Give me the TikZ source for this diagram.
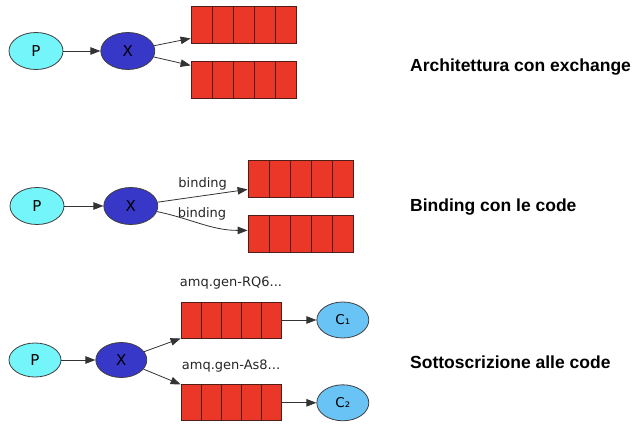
\documentclass[tikz,border=0pt]{standalone}
\usepackage{fontspec}
\setmainfont{DejaVu Sans}
\newfontfamily\titlefont{Liberation Sans}
\usetikzlibrary{shapes.geometric, arrows.meta, positioning, calc}

\definecolor{prodcyan}{RGB}{115,245,250}
\definecolor{exblue}{RGB}{55,55,200}
\definecolor{consblue}{RGB}{105,195,245}
\definecolor{qred}{RGB}{235,55,40}
\definecolor{qedge}{RGB}{80,30,25}

\begin{document}
\begin{tikzpicture}[x=1pt, y=-1pt,
      % Define compact styles
      producer/.style={ellipse, draw=black!75, thick, fill=prodcyan, minimum width=54pt, minimum height=37pt, inner sep=0pt, font=\fontsize{15}{17}\selectfont},
      exchange/.style={ellipse, draw=black!75, thick, fill=exblue, minimum width=54pt, minimum height=37pt, inner sep=0pt, font=\fontsize{15}{17}\selectfont},
      consumer/.style={ellipse, draw=black!75, thick, fill=consblue, minimum width=52pt, minimum height=36pt, inner sep=0pt, font=\fontsize{13.5}{15}\selectfont},
      queue/.style={rectangle, draw=qedge, thick, fill=qred, minimum width=105pt, minimum height=37pt, inner sep=0pt,
        path picture={\foreach \k in {1,...,4} \draw[qedge, thick] ($(path picture bounding box.south west)!\k/5!(path picture bounding box.south east)$) -- ($(path picture bounding box.north west)!\k/5!(path picture bounding box.north east)$);}},
      lbl/.style={inner sep=1pt, font=\fontsize{13}{15}\selectfont, text=black!85},
      title/.style={anchor=west, inner sep=0pt, font=\titlefont\bfseries\fontsize{17.5}{20}\selectfont},
      arrow/.style={-{Triangle[length=10pt,width=7.5pt]}, black!80, line width=0.8pt}
    ]
    \useasboundingbox (0,0) rectangle (640,425);

    % Row 1 - exchange
    \node[producer] (p1) at (36,51) {P};
    \node[exchange, right=37pt of p1] (x1) {X};
    \node[queue] (q1a) at (243.5,24.5) {};
    \node[queue, below=18pt of q1a] (q1b) {};
    \node[title] (t1) at (410,67) {Architettura con exchange};

    % Row 2 - bindings
    \node[producer] (p2) at (37,206) {P};
    \node[exchange, right=39pt of p2] (x2) {X};
    \node[queue] (q2a) at (300.5,178.5) {};
    \node[queue, below=18pt of q2a] (q2b) {};
    \node[title] (t2) at (410,207) {Binding con le code};

    % Row 3 - subscriptions
    \node[producer, minimum width=52pt, minimum height=34pt] (p3) at (35,360) {P};
    \node[exchange, minimum width=51pt, minimum height=35pt, right=34pt of p3] (x3) {X};
    \node[queue, minimum width=100pt, minimum height=36pt] (q3a) at (231,320) {};
    \node[queue, minimum width=100pt, minimum height=36pt, below=46pt of q3a] (q3b) {};
    \node[consumer, right=35pt of q3a] (c1) {C₁};
    \node[consumer, right=35pt of q3b] (c2) {C₂};
    \node[lbl, above=11pt of q3a] (n3a) {amq.gen-RQ6...};
    \node[lbl, above=11pt of q3b] (n3b) {amq.gen-As8...};
    \node[title] (t3) at (410,362) {Sottoscrizione alle code};

    % Arrows
    \draw[arrow] (p1) -- (x1);
    \draw[arrow] (x1) -- ([yshift=5pt]q1a.south west);
    \draw[arrow] (x1) -- ([yshift=-4pt]q1b.north west);

    \draw[arrow] (p2) -- (x2);
    \draw[arrow] (x2) -- node[lbl, above=4pt] {binding} ([yshift=8pt]q2a.south west);
    \draw[arrow] (x2) to[out=-12, in=180] node[lbl, above=2pt] {binding} ([yshift=-15pt]q2b.north west);

    \draw[arrow] (p3) -- (x3);
    \draw[arrow] (x3) -- (q3a.south west);
    \draw[arrow] (x3) -- (q3b.north west);
    \draw[arrow] (q3a) -- (c1);
    \draw[arrow] (q3b) -- (c2);

  \end{tikzpicture}
\end{document}
